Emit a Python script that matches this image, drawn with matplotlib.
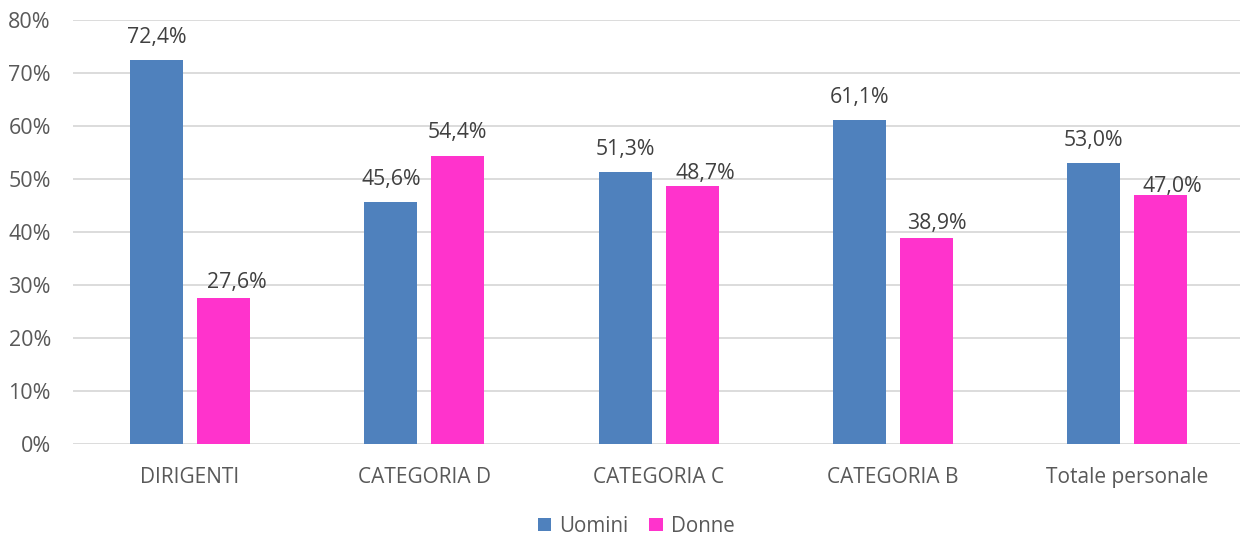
import matplotlib.pyplot as plt
import numpy as np

plt.rcParams['font.family'] = ['Open Sans', 'DejaVu Sans']

categorie = ['DIRIGENTI', 'CATEGORIA D', 'CATEGORIA C', 'CATEGORIA B', 'Totale personale']
uomini = [72.4, 45.6, 51.3, 61.1, 53.0]
donne = [27.6, 54.4, 48.7, 38.9, 47.0]

# spostamento manuale delle etichette "Donne" (pixel: destra, giu')
sposta_dx = [13, 0, 13, 10, 12]
sposta_dy = [7.5, 0, 10.5, 8.5, 14.5]

blu = '#4F81BD'
rosa = '#FF33CC'
grigio = '#595959'

fig = plt.figure(figsize=(12.4, 5.38), dpi=100)
ax = fig.add_axes([0.0588, 0.1747, 0.9446, 0.788])

x = np.arange(len(categorie))
w = 0.226
off = 0.143
b1 = ax.bar(x - off, uomini, w, color=blu, label='Uomini', zorder=3)
b2 = ax.bar(x + off, donne, w, color=rosa, label='Donne', zorder=3)


def etichetta(b, v, dx=0, dy=0):
    ax.annotate(f'{v:.1f}%'.replace('.', ','), (b.get_x() + b.get_width() / 2, v),
                xytext=(dx, 17.5 - dy), textcoords='offset pixels',
                ha='center', va='baseline', fontsize=15.3, color='#404040', zorder=4)


for b, v in zip(b1, uomini):
    etichetta(b, v)
for b, v, dx, dy in zip(b2, donne, sposta_dx, sposta_dy):
    etichetta(b, v, dx, dy)

ax.set_xlim(-0.5, 4.5)
ax.set_ylim(0, 80)
ax.set_yticks(range(0, 81, 10))
ax.set_yticklabels([f'{t}%' for t in range(0, 81, 10)])
ax.set_xticks(x)
ax.set_xticklabels(categorie)
ax.yaxis.grid(True, color='#D9D9D9', linewidth=1.3, zorder=0)
for s in ax.spines.values():
    s.set_visible(False)
ax.tick_params(axis='both', length=0, colors=grigio)
ax.tick_params(axis='x', pad=16.7, labelsize=15)
ax.tick_params(axis='y', pad=15.8, labelsize=15.5)

fig.legend(loc='lower center', bbox_to_anchor=(0.513, -0.032), ncol=2, frameon=False,
           fontsize=14.8, handlelength=0.66, handleheight=0.66, handletextpad=0.4,
           columnspacing=1.0, labelcolor=grigio)

fig.savefig('out.png', dpi=100)
